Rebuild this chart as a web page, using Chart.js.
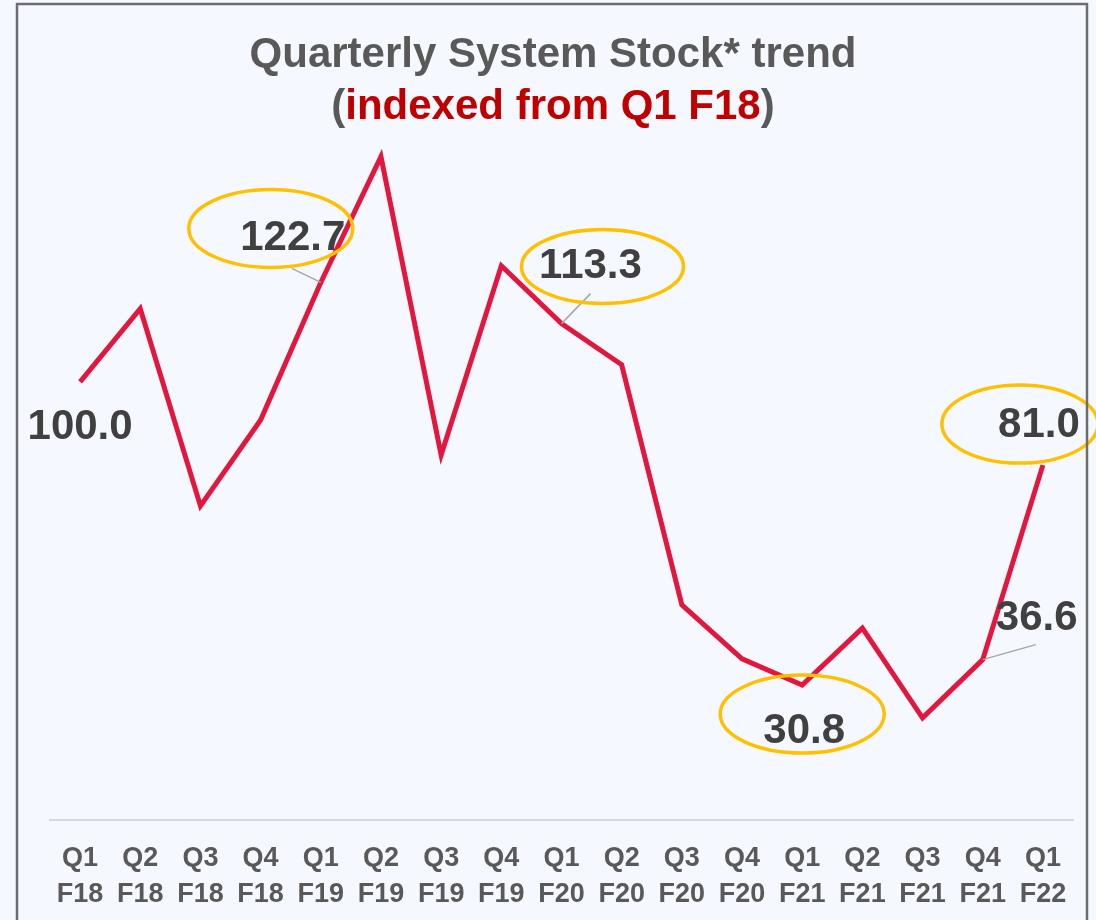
<!DOCTYPE html>
<html>
<head>
<meta charset="utf-8">
<title>Quarterly System Stock trend</title>
<script src="https://cdn.jsdelivr.net/npm/chart.js@4.4.0/dist/chart.umd.min.js"></script>
<style>
    html, body { margin: 0; padding: 0; background: #f5f8fe; }
    #wrap { width: 1096px; height: 920px; }
</style>
</head>
<body>
<div id="wrap"><canvas id="stockChart" width="1096" height="920"></canvas></div>
<script>
// --- Data ---
const quarterLabels = [
    ["Q1", "F18"], ["Q2", "F18"], ["Q3", "F18"], ["Q4", "F18"],
    ["Q1", "F19"], ["Q2", "F19"], ["Q3", "F19"], ["Q4", "F19"],
    ["Q1", "F20"], ["Q2", "F20"], ["Q3", "F20"], ["Q4", "F20"],
    ["Q1", "F21"], ["Q2", "F21"], ["Q3", "F21"], ["Q4", "F21"],
    ["Q1", "F22"]
];
const stockIndex = [100.0, 116.7, 71.7, 91.3, 122.7, 151.4, 83.3, 126.5, 113.3, 103.9, 49.1, 36.8, 30.8, 43.8, 23.3, 36.6, 81.0];
const labelledQuarters = [0, 4, 8, 12, 15, 16];
const circledQuarters = [4, 8, 12, 16];

const titleLine1 = "Quarterly System Stock* trend";
const titleLine2 = ["(", "indexed from Q1 F18", ")"];

// --- Colours ---
const LINE_RED = "#e3173e";
const TITLE_GREY = "#595959";
const TITLE_RED = "#c00000";
const LABEL_DARK = "#404040";
const RING_GOLD = "#ffc000";
const LEADER_GREY = "#a6a6a6";

// Where each value label sits relative to its point (text, ring, leader start)
const labelLayout = {
    0:  { tx: 0,   ty: 46 },
    4:  { tx: -28, ty: -44, ex: -50, ey: -54, rx: 82, ry: 39, lx: -29, ly: -14 },
    8:  { tx: 29,  ty: -57, ex: 41,  ey: -57, rx: 81, ry: 37, lx: 29,  ly: -30 },
    12: { tx: 2,   ty: 46,  ex: 0,   ey: 29,  rx: 82, ry: 39 },
    15: { tx: 54,  ty: -41, lx: 53,  ly: -15 },
    16: { tx: -4,  ty: -40, ex: -23, ey: -41, rx: 78, ry: 39 }
};

// --- Plugin: title, value labels, rings and frame ---
const decorations = {
    id: "decorations",
    afterDatasetsDraw(chart) {
        const ctx = chart.ctx;
        const meta = chart.getDatasetMeta(0);

        // Title
        ctx.save();
        ctx.textBaseline = "alphabetic";
        ctx.font = "bold 42px 'Liberation Sans', Arial, sans-serif";
        ctx.fillStyle = TITLE_GREY;
        ctx.textAlign = "center";
        ctx.fillText(titleLine1, 553, 67);

        ctx.textAlign = "left";
        const widths = titleLine2.map(t => ctx.measureText(t).width);
        let x = 553 - widths.reduce((a, b) => a + b, 0) / 2;
        titleLine2.forEach((part, i) => {
            ctx.fillStyle = i === 1 ? TITLE_RED : TITLE_GREY;
            ctx.fillText(part, x, 119);
            x += widths[i];
        });
        ctx.restore();

        // Leader lines
        ctx.save();
        ctx.strokeStyle = LEADER_GREY;
        ctx.lineWidth = 1.5;
        labelledQuarters.forEach(i => {
            const lay = labelLayout[i];
            if (lay.lx === undefined) return;
            const pt = meta.data[i];
            ctx.beginPath();
            ctx.moveTo(pt.x + lay.lx, pt.y + lay.ly);
            ctx.lineTo(pt.x, pt.y);
            ctx.stroke();
        });
        ctx.restore();

        // Value labels
        ctx.save();
        ctx.font = "bold 42px 'Liberation Sans', Arial, sans-serif";
        ctx.fillStyle = LABEL_DARK;
        ctx.textAlign = "center";
        ctx.textBaseline = "middle";
        labelledQuarters.forEach(i => {
            const lay = labelLayout[i];
            const pt = meta.data[i];
            ctx.fillText(stockIndex[i].toFixed(1), pt.x + lay.tx, pt.y + lay.ty);
        });
        ctx.restore();

        // Gold rings
        ctx.save();
        ctx.strokeStyle = RING_GOLD;
        ctx.lineWidth = 3.5;
        circledQuarters.forEach(i => {
            const lay = labelLayout[i];
            const pt = meta.data[i];
            ctx.beginPath();
            ctx.ellipse(pt.x + lay.ex, pt.y + lay.ey, lay.rx, lay.ry, 0, 0, Math.PI * 2);
            ctx.stroke();
        });
        ctx.restore();

        // Outer frame (left, top, right)
        ctx.save();
        ctx.strokeStyle = "#6d6d6d";
        ctx.lineWidth = 2.5;
        ctx.beginPath();
        ctx.moveTo(17, 920);
        ctx.lineTo(17, 4);
        ctx.lineTo(1087, 4);
        ctx.lineTo(1087, 920);
        ctx.stroke();
        ctx.restore();
    }
};

// --- Chart ---
const stockChart = new Chart(document.getElementById("stockChart"), {
    type: "line",
    data: {
        labels: quarterLabels,
        datasets: [{
            data: stockIndex,
            borderColor: LINE_RED,
            borderWidth: 5,
            pointRadius: 0,
            tension: 0,
            borderJoinStyle: "miter"
        }]
    },
    options: {
        responsive: false,
        animation: false,
        layout: { padding: { top: 119, left: 50, right: 23, bottom: 0 } },
        plugins: { legend: { display: false }, title: { display: false }, tooltip: { enabled: false } },
        scales: {
            x: {
                offset: true,
                grid: { display: false, drawTicks: false },
                border: { display: true, color: "#d9d9d9", width: 2 },
                ticks: {
                    color: TITLE_GREY,
                    padding: 21,
                    maxRotation: 0,
                    autoSkip: false,
                    font: { family: "'Liberation Sans', Arial, sans-serif", size: 27, weight: "bold", lineHeight: 1.32 }
                },
                afterFit(scale) { scale.height = 100; }
            },
            y: {
                display: false,
                min: 0,
                max: 160
            }
        }
    },
    plugins: [decorations]
});
</script>
</body>
</html>
